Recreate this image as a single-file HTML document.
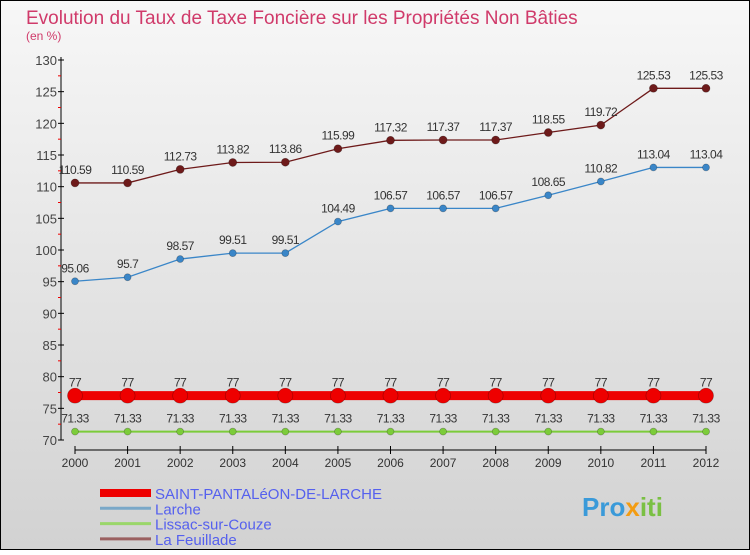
<!DOCTYPE html>
<html><head><meta charset="utf-8"><style>
body{margin:0}
#c{width:750px;height:550px;position:relative;font-family:"Liberation Sans",sans-serif;}
</style></head><body>
<div id="c">
<svg width="750" height="550" xmlns="http://www.w3.org/2000/svg" id="svg">
<defs><linearGradient id="bg" x1="0" y1="0" x2="0" y2="1"><stop offset="0" stop-color="#f7f7f7"/><stop offset="1" stop-color="#d2d2d2"/></linearGradient></defs>
<rect x="0.5" y="0.5" width="749" height="549" fill="url(#bg)" stroke="#000"/>
<text x="26" y="24" font-size="19" fill="#d03a6a">Evolution du Taux de Taxe Foncière sur les Propriétés Non Bâties</text>
<text x="26" y="40" font-size="12" fill="#d03a6a">(en %)</text>
<g id="axes"></g><g id="series"></g><g id="legend"></g>
<text x="582" y="516" font-size="26" font-weight="bold" fill="#3a9ad9">Pro<tspan fill="#f39c12">x</tspan><tspan fill="#7ac043">iti</tspan></text>
</svg>
</div>
<script>
const years=[2000,2001,2002,2003,2004,2005,2006,2007,2008,2009,2010,2011,2012];
const yTicks=[70,75,80,85,90,95,100,105,110,115,120,125,130];
const saint=[77,77,77,77,77,77,77,77,77,77,77,77,77];
const larche=[95.06,95.7,98.57,99.51,99.51,104.49,106.57,106.57,106.57,108.65,110.82,113.04,113.04];
const lissac=[71.33,71.33,71.33,71.33,71.33,71.33,71.33,71.33,71.33,71.33,71.33,71.33,71.33];
const feuillade=[110.59,110.59,112.73,113.82,113.86,115.99,117.32,117.37,117.37,118.55,119.72,125.53,125.53];
const seriesNames=["SAINT-PANTALéON-DE-LARCHE","Larche","Lissac-sur-Couze","La Feuillade"];
const NS="http://www.w3.org/2000/svg";
const X=i=>75+i*(706-75)/(years.length-1);
const Y=v=>440-(v-70)*(380/60);
function mk(tag,attrs,parent){const e=document.createElementNS(NS,tag);for(const k in attrs)e.setAttribute(k,attrs[k]);parent.appendChild(e);return e;}
const ax=document.getElementById('axes');
let a=mk('line',{x1:61,y1:57,x2:61,y2:440,stroke:'#000'},ax);


yTicks.forEach(v=>{
 mk('line',{x1:58,x2:64,y1:Y(v),y2:Y(v),stroke:'#000'},ax);
 if(v<130) mk('line',{x1:58,x2:61,y1:Y(v+2.5),y2:Y(v+2.5),stroke:'#e00'},ax);
 const t=mk('text',{x:57,y:Y(v)+5,'font-size':13,'text-anchor':'end',fill:'#444'},ax);t.textContent=v;
 
 
});
a=mk('line',{x1:75,y1:450,x2:706,y2:450,stroke:'#000'},ax);


years.forEach((y,i)=>{
 mk('line',{x1:X(i),x2:X(i),y1:446,y2:454,stroke:'#000'},ax);
 const t=mk('text',{x:X(i),y:467,'font-size':12,'text-anchor':'middle',fill:'#333'},ax);t.textContent=y;
 
 
});
const sg=document.getElementById('series');
function draw(vals,name,color,lw,r,fmt){
 const g=mk('g',{},sg);
 
 
 mk('polyline',{points:vals.map((v,i)=>X(i)+','+Y(v)).join(' '),fill:'none',stroke:color,'stroke-width':lw},g);
 vals.forEach((v,i)=>{
  const c=mk('circle',{cx:X(i),cy:Y(v),r:r,fill:color,stroke:'rgba(0,0,0,0.3)','stroke-width':0.7},g);
  
  
  const t=mk('text',{x:X(i),y:Y(v)-9,'font-size':12,'text-anchor':'middle',fill:'#333','letter-spacing':'-0.5'},g);t.textContent=fmt?fmt(v):v;
  
  
 });
}
draw(feuillade,'series-la-feuillade','#6e1a1a',1.3,4);
draw(larche,'series-larche','#3a86c8',1.3,3.5);
draw(lissac,'series-lissac','#7ccc3a',2,3.5);
draw(saint,'series-saint-pantaleon','#ee0000',9,7.5);
const lg=document.getElementById('legend');
const cols=['#ee0000','#7aa8c8','#9ad66a','#9a6060'],ws=[8,3,3,3];
seriesNames.forEach((n,i)=>{
 const y=493+i*15.3;
 const l=mk('line',{x1:100,x2:151,y1:y,y2:y,stroke:cols[i],'stroke-width':ws[i]},lg);
 
 
 const t=mk('text',{x:155,y:y+6,'font-size':15,fill:'#5560ee'},lg);t.textContent=n;
 
 
});
</script>
</body></html>
